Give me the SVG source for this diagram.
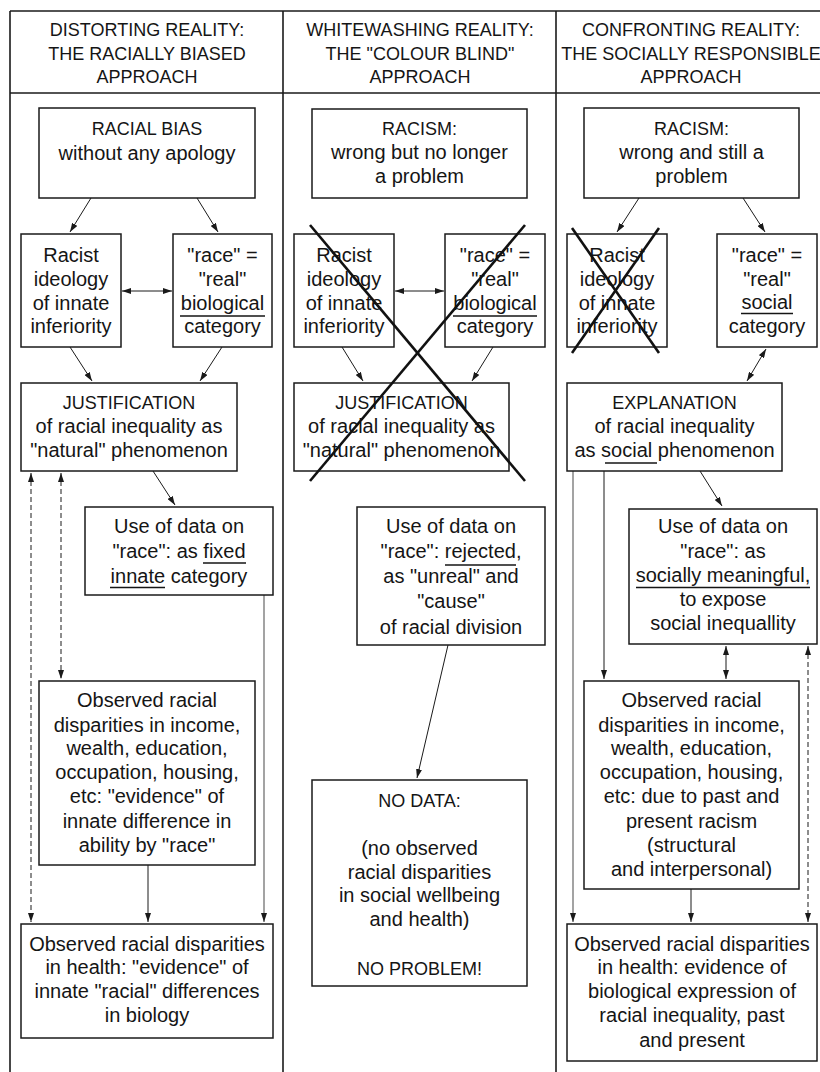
<svg xmlns="http://www.w3.org/2000/svg" width="820" height="1072" viewBox="0 0 820 1072">
<style>
  .frame{stroke:#1a1a1a;stroke-width:1.6;fill:none}
  .box{fill:#fff;stroke:#1a1a1a;stroke-width:1.5}
  text{font-family:"Liberation Sans",Arial,sans-serif;fill:#151515;text-anchor:middle}
  .t{font-size:20px}
  .c{font-size:18px}
  .ul{stroke:#151515;stroke-width:1.3}
  .arr{stroke:#1a1a1a;stroke-width:1;fill:none;marker-end:url(#ah)}
  .dbl{stroke:#1a1a1a;stroke-width:1;fill:none;marker-end:url(#ah);marker-start:url(#ah)}
  .dash{stroke:#1a1a1a;stroke-width:1;fill:none;stroke-dasharray:5,3;marker-end:url(#ah);marker-start:url(#ah)}
  .grey{stroke:#666;stroke-width:1.2;fill:none;marker-end:url(#ahg)}
  .cross{stroke:#111;stroke-width:2.6;stroke-linecap:butt}
</style>
<defs>
  <marker id="ah" viewBox="0 0 9 6" refX="9" refY="3" markerWidth="9" markerHeight="6" markerUnits="userSpaceOnUse" orient="auto-start-reverse">
    <path d="M0,0 L9,3 L0,6 z" fill="#1a1a1a"/>
  </marker>
  <marker id="ahg" viewBox="0 0 9 6" refX="9" refY="3" markerWidth="9" markerHeight="6" markerUnits="userSpaceOnUse" orient="auto">
    <path d="M0,0 L9,3 L0,6 z" fill="#1a1a1a"/>
  </marker>
</defs>
<rect width="820" height="1072" fill="#fff"/>

<g id="frame">
  <line class="frame" x1="10" y1="11" x2="820" y2="11"/>
  <line class="frame" x1="10" y1="93" x2="820" y2="93"/>
  <line class="frame" x1="10" y1="11" x2="10" y2="1072"/>
  <line class="frame" x1="283" y1="11" x2="283" y2="1072"/>
  <line class="frame" x1="556" y1="11" x2="556" y2="1072"/>
</g>

<g id="header1">
  <text class="c" x="147" y="36">DISTORTING REALITY:</text>
  <text class="c" x="147" y="59.5">THE RACIALLY BIASED</text>
  <text class="c" x="147" y="83">APPROACH</text>
</g>
<g id="header2">
  <text class="c" x="420" y="36">WHITEWASHING REALITY:</text>
  <text class="c" x="420" y="59.5">THE "COLOUR BLIND"</text>
  <text class="c" x="420" y="83">APPROACH</text>
</g>
<g id="header3">
  <text class="c" x="691" y="36">CONFRONTING REALITY:</text>
  <text class="c" x="691" y="59.5">THE SOCIALLY RESPONSIBLE</text>
  <text class="c" x="691" y="83">APPROACH</text>
</g>

<g id="connectors">
  <line class="arr" x1="91" y1="198" x2="70" y2="232"/>
  <line class="arr" x1="197" y1="198" x2="218" y2="232"/>
  <line class="dbl" x1="122" y1="291" x2="172" y2="291"/>
  <line class="arr" x1="70" y1="347" x2="92" y2="381"/>
  <line class="arr" x1="222" y1="347" x2="200" y2="381"/>
  <line class="arr" x1="153" y1="471" x2="175" y2="505"/>
  <line class="dash" x1="31" y1="473" x2="31" y2="922"/>
  <line class="dash" x1="61" y1="473" x2="61" y2="679"/>
  <line class="grey" x1="264" y1="595" x2="264" y2="922"/>
  <line class="arr" x1="148" y1="865" x2="148" y2="922"/>

  <line class="dbl" x1="395" y1="291" x2="444" y2="291"/>
  <line class="arr" x1="342" y1="347" x2="363" y2="381"/>
  <line class="arr" x1="493" y1="347" x2="472" y2="381"/>
  <line class="arr" x1="448" y1="645" x2="417" y2="778"/>

  <line class="arr" x1="639" y1="198" x2="617" y2="232"/>
  <line class="arr" x1="743" y1="198" x2="765" y2="232"/>
  <line class="dbl" x1="766" y1="349" x2="747" y2="381"/>
  <line class="arr" x1="700" y1="471" x2="722" y2="506"/>
  <line class="dbl" x1="726" y1="646" x2="726" y2="679"/>
  <line class="dash" x1="808" y1="646" x2="808" y2="922"/>
  <line class="arr" x1="604" y1="471" x2="604" y2="679"/>
  <line class="grey" x1="573" y1="471" x2="573" y2="922"/>
  <line class="arr" x1="691" y1="889" x2="691" y2="922"/>
</g>

<!-- Column 1 -->
<g id="n1">
  <rect class="box" x="39" y="108" width="216" height="90"/>
  <text class="c" x="147" y="135">RACIAL BIAS</text>
  <text class="t" x="147" y="159.5">without any apology</text>
</g>
<g id="n2">
  <rect class="box" x="21" y="234" width="100" height="113"/>
  <text class="t" x="71" y="262">Racist</text>
  <text class="t" x="71" y="286">ideology</text>
  <text class="t" x="71" y="309.5">of innate</text>
  <text class="t" x="71" y="333">inferiority</text>
</g>
<g id="n3">
  <rect class="box" x="173" y="234" width="99" height="113"/>
  <text class="t" x="222.5" y="262">"race" =</text>
  <text class="t" x="222.5" y="286">"real"</text>
  <text class="t" x="222.5" y="309.5">biological</text>
  <line class="ul" x1="180" y1="316" x2="265" y2="316"/>
  <text class="t" x="222.5" y="333">category</text>
</g>
<g id="n4">
  <rect class="box" x="21" y="383" width="216" height="88"/>
  <text class="c" x="129" y="409">JUSTIFICATION</text>
  <text class="t" x="129" y="433">of racial inequality as</text>
  <text class="t" x="129" y="457">"natural" phenomenon</text>
</g>
<g id="n5">
  <rect class="box" x="85" y="507" width="188" height="88"/>
  <text class="t" x="179" y="533">Use of data on</text>
  <text class="t" x="179" y="558">"race": as fixed</text>
  <line class="ul" x1="203" y1="563" x2="246" y2="563"/>
  <text class="t" x="179" y="582.5">innate category</text>
  <line class="ul" x1="110" y1="587.5" x2="165" y2="587.5"/>
</g>
<g id="n6">
  <rect class="box" x="39" y="681" width="216" height="184"/>
  <text class="t" x="147" y="707">Observed racial</text>
  <text class="t" x="147" y="731.5">disparities in income,</text>
  <text class="t" x="147" y="755">wealth, education,</text>
  <text class="t" x="147" y="779">occupation, housing,</text>
  <text class="t" x="147" y="803">etc: "evidence" of</text>
  <text class="t" x="147" y="827.5">innate difference in</text>
  <text class="t" x="147" y="851.5">ability by "race"</text>
</g>
<g id="n7">
  <rect class="box" x="21" y="924" width="252" height="114"/>
  <text class="t" x="147" y="950.5">Observed racial disparities</text>
  <text class="t" x="147" y="974">in health: "evidence" of</text>
  <text class="t" x="147" y="998">innate "racial" differences</text>
  <text class="t" x="147" y="1022">in biology</text>
</g>

<!-- Column 2 -->
<g id="n8">
  <rect class="box" x="312" y="109" width="215" height="89"/>
  <text class="c" x="419.5" y="135">RACISM:</text>
  <text class="t" x="419.5" y="159">wrong but no longer</text>
  <text class="t" x="419.5" y="183">a problem</text>
</g>
<g id="n9">
  <rect class="box" x="294" y="234" width="100" height="113"/>
  <text class="t" x="344" y="262">Racist</text>
  <text class="t" x="344" y="286">ideology</text>
  <text class="t" x="344" y="309.5">of innate</text>
  <text class="t" x="344" y="333">inferiority</text>
</g>
<g id="n10">
  <rect class="box" x="445" y="234" width="100" height="113"/>
  <text class="t" x="495" y="262">"race" =</text>
  <text class="t" x="495" y="286">"real"</text>
  <text class="t" x="495" y="309.5">biological</text>
  <line class="ul" x1="453" y1="316" x2="537" y2="316"/>
  <text class="t" x="495" y="333">category</text>
</g>
<g id="n11">
  <rect class="box" x="294" y="383" width="215" height="88"/>
  <text class="c" x="401.5" y="409">JUSTIFICATION</text>
  <text class="t" x="401.5" y="433">of racial inequality as</text>
  <text class="t" x="401.5" y="457">"natural" phenomenon</text>
</g>
<g id="cross-middle">
  <line class="cross" x1="310" y1="225" x2="525" y2="481"/>
  <line class="cross" x1="525" y1="225" x2="310" y2="481"/>
</g>
<g id="n12">
  <rect class="box" x="357" y="507" width="188" height="138"/>
  <text class="t" x="451" y="532.5">Use of data on</text>
  <text class="t" x="451" y="558">"race": rejected,</text>
  <line class="ul" x1="445" y1="565" x2="516" y2="565"/>
  <text class="t" x="451" y="583">as "unreal" and</text>
  <text class="t" x="451" y="608">"cause"</text>
  <text class="t" x="451" y="633.5">of racial division</text>
</g>
<g id="n13">
  <rect class="box" x="312" y="780" width="215" height="206"/>
  <text class="c" x="419.5" y="807">NO DATA:</text>
  <text class="t" x="419.5" y="855">(no observed</text>
  <text class="t" x="419.5" y="878.5">racial disparities</text>
  <text class="t" x="419.5" y="902">in social wellbeing</text>
  <text class="t" x="419.5" y="926">and health)</text>
  <text class="c" x="419.5" y="975">NO PROBLEM!</text>
</g>

<!-- Column 3 -->
<g id="n14">
  <rect class="box" x="584" y="108" width="215" height="90"/>
  <text class="c" x="691.5" y="135">RACISM:</text>
  <text class="t" x="691.5" y="159">wrong and still a</text>
  <text class="t" x="691.5" y="183">problem</text>
</g>
<g id="n15">
  <rect class="box" x="567" y="234" width="100" height="113"/>
  <text class="t" x="617" y="262">Racist</text>
  <text class="t" x="617" y="286">ideology</text>
  <text class="t" x="617" y="309.5">of innate</text>
  <text class="t" x="617" y="333">inferiority</text>
  <line class="cross" x1="572" y1="228" x2="659" y2="353"/>
  <line class="cross" x1="659" y1="228" x2="572" y2="353"/>
</g>
<g id="n16">
  <rect class="box" x="717" y="234" width="100" height="113"/>
  <text class="t" x="767" y="262">"race" =</text>
  <text class="t" x="767" y="286">"real"</text>
  <text class="t" x="767" y="309">social</text>
  <line class="ul" x1="741" y1="313.5" x2="793" y2="313.5"/>
  <text class="t" x="767" y="333">category</text>
</g>
<g id="n17">
  <rect class="box" x="567" y="383" width="215" height="88"/>
  <text class="c" x="674.5" y="409">EXPLANATION</text>
  <text class="t" x="674.5" y="433">of racial inequality</text>
  <text class="t" x="674.5" y="457">as social phenomenon</text>
  <line class="ul" x1="605" y1="463" x2="657" y2="463"/>
</g>
<g id="n18">
  <rect class="box" x="629" y="509" width="188" height="135"/>
  <text class="t" x="723" y="533">Use of data on</text>
  <text class="t" x="723" y="558">"race": as</text>
  <text class="t" x="723" y="582">socially meaningful,</text>
  <line class="ul" x1="636" y1="587.5" x2="810" y2="587.5"/>
  <text class="t" x="723" y="605.5">to expose</text>
  <text class="t" x="723" y="629.5">social inequallity</text>
</g>
<g id="n19">
  <rect class="box" x="584" y="681" width="215" height="208"/>
  <text class="t" x="691.5" y="707">Observed racial</text>
  <text class="t" x="691.5" y="731.5">disparities in income,</text>
  <text class="t" x="691.5" y="755">wealth, education,</text>
  <text class="t" x="691.5" y="779">occupation, housing,</text>
  <text class="t" x="691.5" y="803">etc: due to past and</text>
  <text class="t" x="691.5" y="827.5">present racism</text>
  <text class="t" x="691.5" y="851.5">(structural</text>
  <text class="t" x="691.5" y="875.5">and interpersonal)</text>
</g>
<g id="n20">
  <rect class="box" x="567" y="924" width="250" height="137"/>
  <text class="t" x="692" y="950.5">Observed racial disparities</text>
  <text class="t" x="692" y="974">in health: evidence of</text>
  <text class="t" x="692" y="998">biological expression of</text>
  <text class="t" x="692" y="1022">racial inequality, past</text>
  <text class="t" x="692" y="1046.5">and present</text>
</g>
</svg>
